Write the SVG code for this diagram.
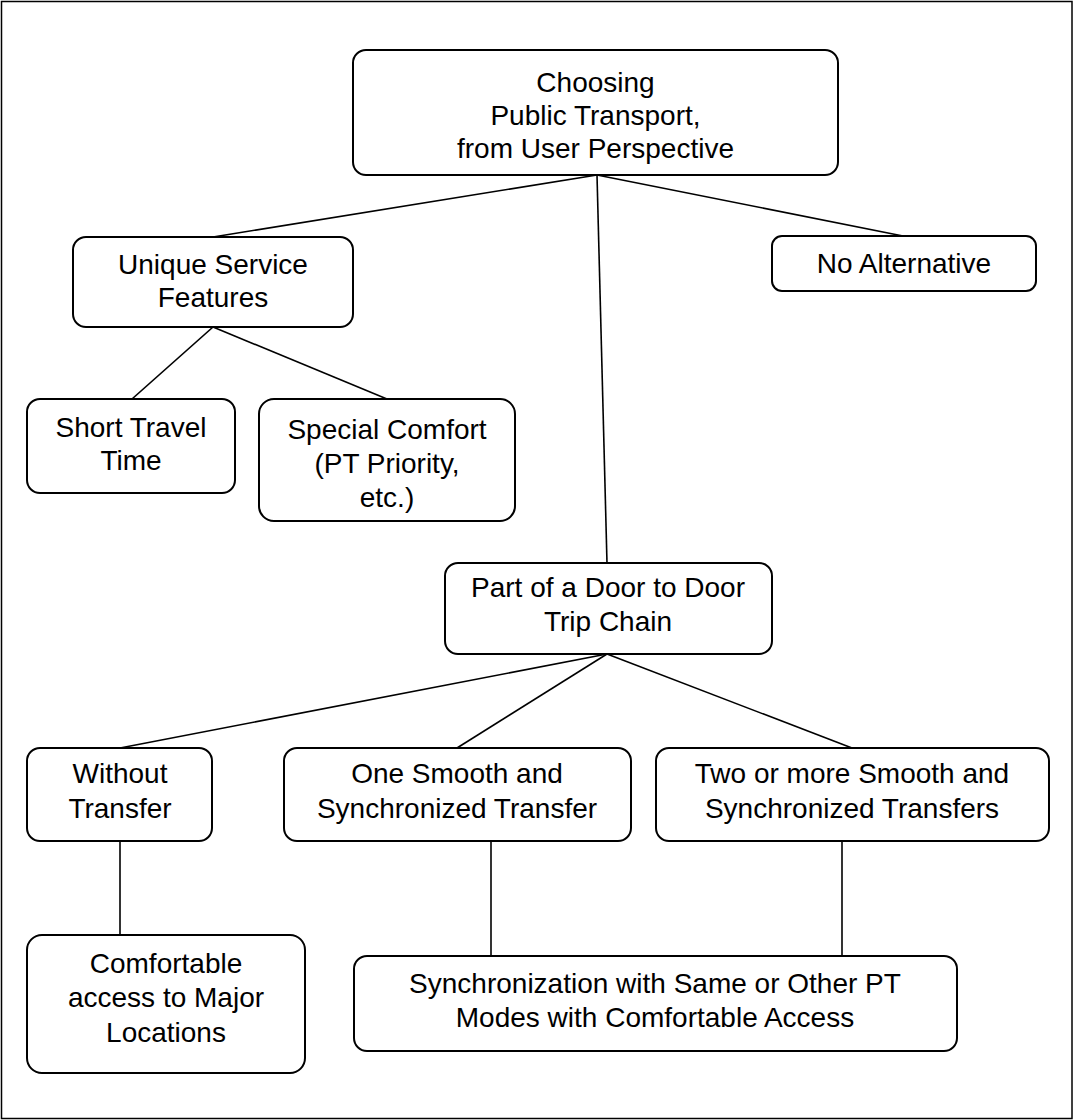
<svg xmlns="http://www.w3.org/2000/svg" width="1073" height="1120" viewBox="0 0 1073 1120">
<style>
.box{fill:#fff;stroke:#000;stroke-width:2}
.ln{stroke:#000;stroke-width:1.6;fill:none}
text{font-family:"Liberation Sans",Arial,sans-serif;font-size:28px;fill:#000;text-anchor:middle}
</style>
<rect x="1.5" y="1.5" width="1070.5" height="1117" fill="#fff" stroke="#000" stroke-width="1.5"/>
<g id="connectors">
<line class="ln" x1="597" y1="175" x2="213" y2="237"/>
<line class="ln" x1="597" y1="175" x2="903" y2="236"/>
<line class="ln" x1="597" y1="175" x2="607" y2="563"/>
<line class="ln" x1="213" y1="327" x2="132" y2="399"/>
<line class="ln" x1="213" y1="327" x2="387" y2="399"/>
<line class="ln" x1="607" y1="654" x2="120" y2="748"/>
<line class="ln" x1="607" y1="654" x2="457" y2="748"/>
<line class="ln" x1="607" y1="654" x2="852" y2="748"/>
<line class="ln" x1="120" y1="841" x2="120" y2="935"/>
<line class="ln" x1="491" y1="841" x2="491" y2="956"/>
<line class="ln" x1="842" y1="841" x2="842" y2="956"/>
</g>
<g id="n-root">
<rect class="box" x="353" y="50" width="485" height="125" rx="13"/>
<text x="595.5" y="92">Choosing</text><text x="595.5" y="125">Public Transport,</text><text x="595.5" y="158">from User Perspective</text>
</g>
<g id="n-unique">
<rect class="box" x="73" y="237" width="280" height="90" rx="13"/>
<text x="213" y="274">Unique Service</text><text x="213" y="307">Features</text>
</g>
<g id="n-noalt">
<rect class="box" x="772" y="236" width="264" height="55" rx="10"/>
<text x="904" y="273">No Alternative</text>
</g>
<g id="n-short">
<rect class="box" x="27" y="399" width="208" height="94" rx="13"/>
<text x="131" y="437">Short Travel</text><text x="131" y="470">Time</text>
</g>
<g id="n-special">
<rect class="box" x="259" y="399" width="256" height="122" rx="15"/>
<text x="387" y="439">Special Comfort</text><text x="387" y="473">(PT Priority,</text><text x="387" y="507">etc.)</text>
</g>
<g id="n-door">
<rect class="box" x="445" y="563" width="327" height="91" rx="13"/>
<text x="608" y="597">Part of a Door to Door</text><text x="608" y="631">Trip Chain</text>
</g>
<g id="n-without">
<rect class="box" x="27" y="748" width="185" height="93" rx="13"/>
<text x="120" y="783">Without</text><text x="120" y="818">Transfer</text>
</g>
<g id="n-one">
<rect class="box" x="284" y="748" width="347" height="93" rx="13"/>
<text x="457" y="783">One Smooth and</text><text x="457" y="818">Synchronized Transfer</text>
</g>
<g id="n-two">
<rect class="box" x="656" y="748" width="393" height="93" rx="13"/>
<text x="852" y="783">Two or more Smooth and</text><text x="852" y="818">Synchronized Transfers</text>
</g>
<g id="n-comfort">
<rect class="box" x="27" y="935" width="278" height="138" rx="15"/>
<text x="166" y="973">Comfortable</text><text x="166" y="1007">access to Major</text><text x="166" y="1042">Locations</text>
</g>
<g id="n-sync">
<rect class="box" x="354" y="956" width="603" height="95" rx="13"/>
<text x="655" y="993">Synchronization with Same or Other PT</text><text x="655" y="1027">Modes with Comfortable Access</text>
</g>
</svg>
